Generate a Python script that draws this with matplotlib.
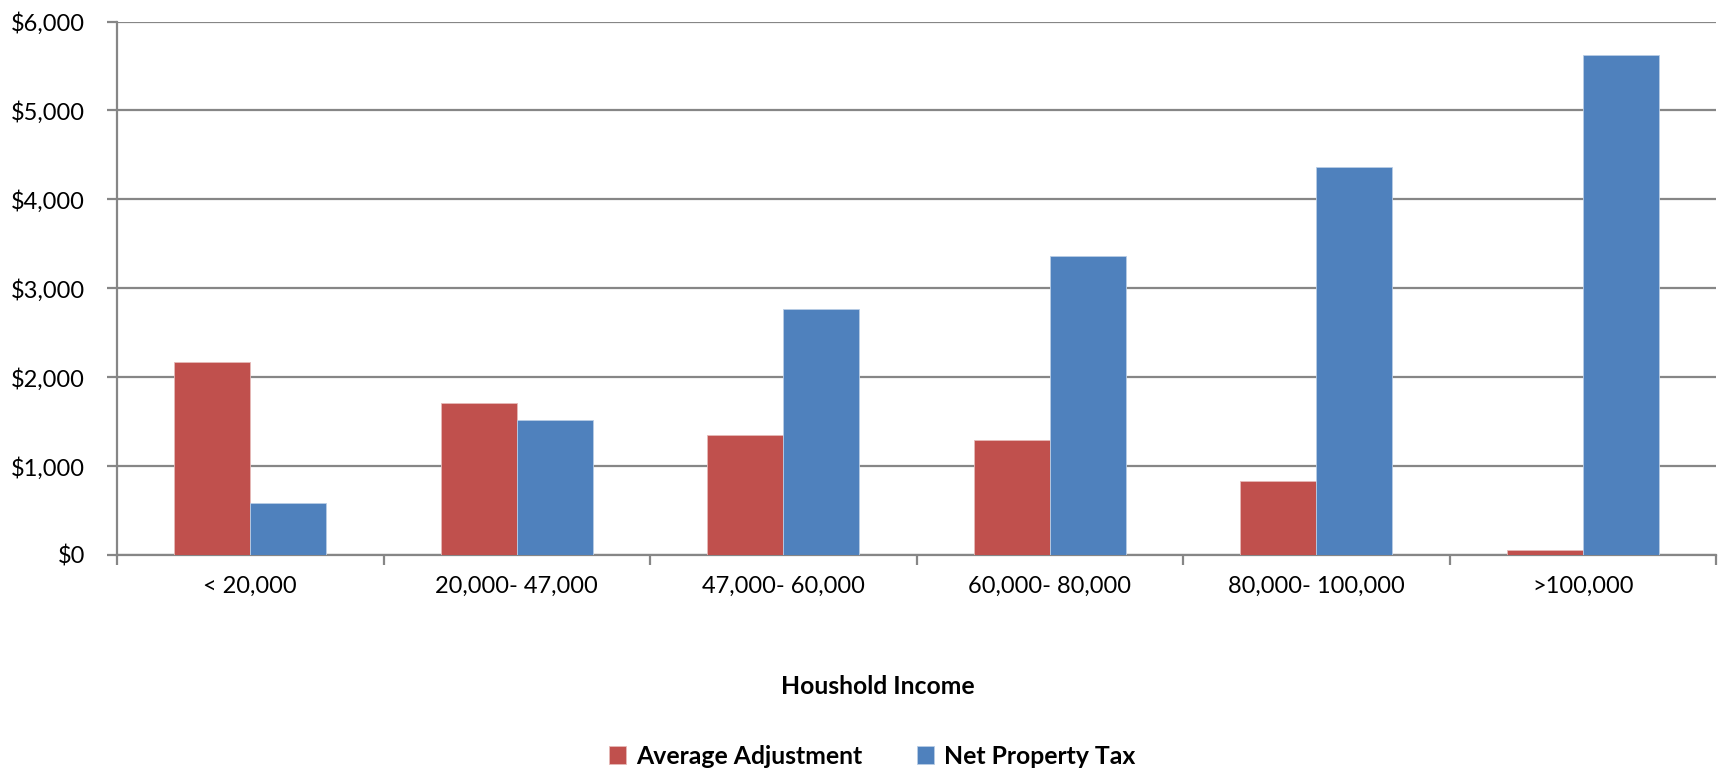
import numpy as np
import matplotlib.pyplot as plt
from matplotlib.ticker import FuncFormatter

categories = ['< 20,000', '20,000- 47,000', '47,000- 60,000', '60,000- 80,000',
              '80,000- 100,000', '>100,000']
avg_adjustment = [2165, 1715, 1355, 1290, 835, 60]
net_property_tax = [580, 1520, 2770, 3365, 4365, 5620]

red = '#C0504D'
blue = '#4F81BD'
grid_c = '#868686'

plt.rcParams['font.family'] = ['Lato', 'DejaVu Sans']

fig = plt.figure(figsize=(17.2, 7.75), dpi=100)
ax = fig.add_axes([117 / 1720, 1 - 555 / 775, (1716 - 117) / 1720, (555 - 21.5) / 775])

x = np.arange(len(categories))
w = 1 / 3.5
ax.bar(x - w / 2, avg_adjustment, w, color=red, edgecolor='#E6B9B8', linewidth=0.6,
       label='Average Adjustment', zorder=3)
ax.bar(x + w / 2, net_property_tax, w, color=blue, edgecolor='#B9CDE5', linewidth=0.6,
       label='Net Property Tax', zorder=3)

ax.set_xlim(-0.5, len(categories) - 0.5)
ax.set_ylim(0, 6000)
ax.set_yticks(np.arange(0, 6001, 1000))
ax.yaxis.set_major_formatter(FuncFormatter(lambda v, p: '${:,.0f}'.format(v)))
ax.grid(axis='y', color=grid_c, linewidth=1.6, zorder=0)

# category labels at centres, tick marks at boundaries
ax.set_xticks(x)
ax.set_xticklabels(categories)
ax.set_xticks(np.arange(-0.5, len(categories)), minor=True)
ax.tick_params(axis='x', which='major', length=0, pad=15, labelsize=17)
ax.tick_params(axis='x', which='minor', length=7, width=1.6, color=grid_c)
ax.tick_params(axis='y', length=7, width=1.6, color=grid_c, pad=16, labelsize=17)

for s in ['top', 'right']:
    ax.spines[s].set_visible(False)
for s in ['left', 'bottom']:
    ax.spines[s].set_color(grid_c)
    ax.spines[s].set_linewidth(1.6)

fig.text(878 / 1720, 1 - 687 / 775, 'Houshold Income', ha='center', va='center',
         fontsize=17.8, fontweight='bold')
fig.legend(loc='center', bbox_to_anchor=(872 / 1720, 1 - 756 / 775), ncol=2, frameon=False,
           prop={'size': 17.8, 'weight': 'bold'}, handlelength=0.7, handleheight=0.7,
           handletextpad=0.4, columnspacing=2.2)

fig.savefig('out.png', dpi=100)
